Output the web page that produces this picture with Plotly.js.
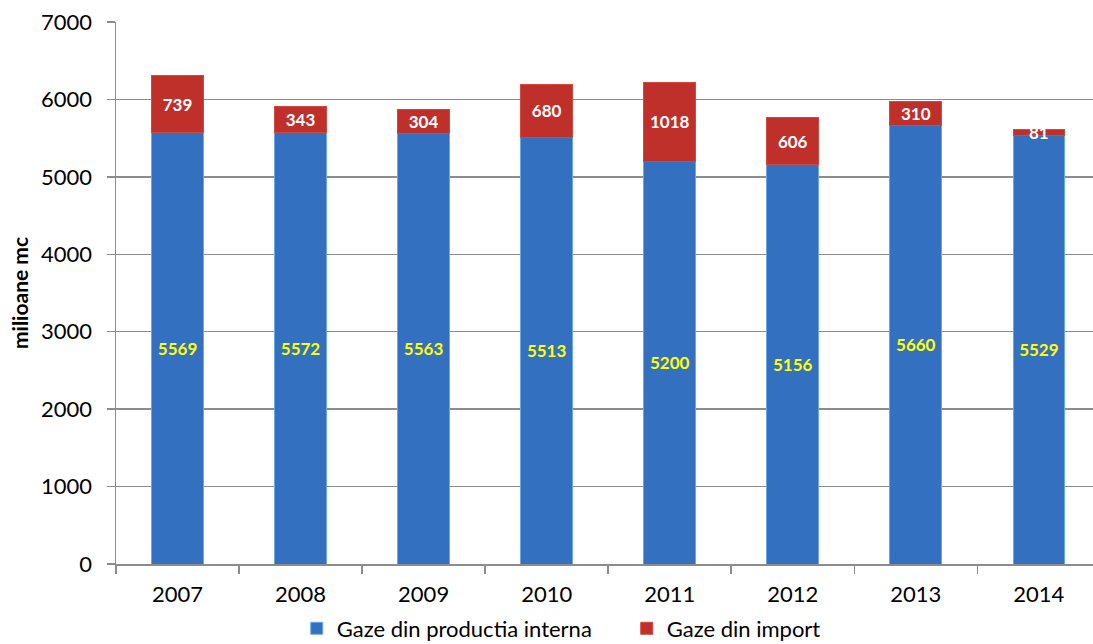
<!DOCTYPE html>
<html>
<head>
<meta charset="utf-8">
<script src="https://cdn.plot.ly/plotly-3.0.1.min.js"></script>
<style>html,body{margin:0;padding:0;background:#fff;}#chart{width:1093px;height:644px;}</style>
</head>
<body>
<div id="chart"></div>
<script>
const years = ['2007', '2008', '2009', '2010', '2011', '2012', '2013', '2014'];
const internal = [5569, 5572, 5563, 5513, 5200, 5156, 5660, 5529];
const imported = [739, 343, 304, 680, 1018, 606, 310, 81];
const yTicks = [0, 1000, 2000, 3000, 4000, 5000, 6000, 7000];
const seriesNames = ['Gaze din productia interna', 'Gaze din import'];

const FONT = 'Lato, "Open Sans", "DejaVu Sans", sans-serif';

const traces = [
  {
    type: 'bar', x: years, y: internal, name: seriesNames[0],
    marker: {color: '#3470c0', line: {color: '#6aa6e8', width: 1}},
    text: internal.map(String), textposition: 'inside', insidetextanchor: 'middle',
    constraintext: 'none', textangle: 0,
    textfont: {family: FONT, size: 17, color: '#ffff00', weight: 'bold'},
    hoverinfo: 'x+y'
  },
  {
    type: 'bar', x: years, y: imported, name: seriesNames[1],
    marker: {color: '#c0302b', line: {color: '#d04a40', width: 1}},
    text: imported.map(String), textposition: 'inside', insidetextanchor: 'middle',
    constraintext: 'none', textangle: 0,
    textfont: {family: FONT, size: 17, color: '#ffffff', weight: 'bold'},
    hoverinfo: 'x+y'
  }
];

const layout = {
  width: 1093, height: 644,
  margin: {l: 116, r: 0, t: 22, b: 80, autoexpand: false},
  paper_bgcolor: '#ffffff', plot_bgcolor: '#ffffff',
  barmode: 'stack', bargap: 0.58,
  font: {family: FONT, size: 22, color: '#000000'},
  showlegend: true,
  legend: {orientation: 'h', xref: 'paper', yref: 'paper', x: 0.185, xanchor: 'left',
           y: -0.119, yanchor: 'middle', entrywidth: 285, entrywidthmode: 'pixels',
           itemwidth: 30, bgcolor: 'rgba(0,0,0,0)',
           font: {family: FONT, size: 22, color: '#000'}, traceorder: 'normal'},
  xaxis: {
    type: 'category', range: [-0.5, 7.44], showline: true, linecolor: '#8c8c8c', linewidth: 1.5,
    ticks: 'outside', tickson: 'boundaries', ticklen: 8, tickcolor: '#8c8c8c', tickwidth: 1.5,
    ticklabelstandoff: 10,
    showgrid: false, tickfont: {family: FONT, size: 22, color: '#000'}, fixedrange: true,
    automargin: false
  },
  yaxis: {
    range: [0, 7000], tickvals: yTicks, ticktext: yTicks.map(String),
    showline: true, linecolor: '#8c8c8c', linewidth: 1.5,
    ticks: 'outside', ticklen: 8, tickcolor: '#8c8c8c', tickwidth: 1.5, ticklabelstandoff: 10,
    showgrid: true, gridcolor: '#8c8c8c', gridwidth: 1.5, zeroline: false,
    tickfont: {family: FONT, size: 22, color: '#000'},
    title: {text: 'milioane mc', font: {family: FONT, size: 21, color: '#000', weight: 'bold'}, standoff: 6},
    fixedrange: true, automargin: false
  }
};

Plotly.newPlot('chart', traces, layout, {displayModeBar: false, staticPlot: true});
</script>
</body>
</html>
